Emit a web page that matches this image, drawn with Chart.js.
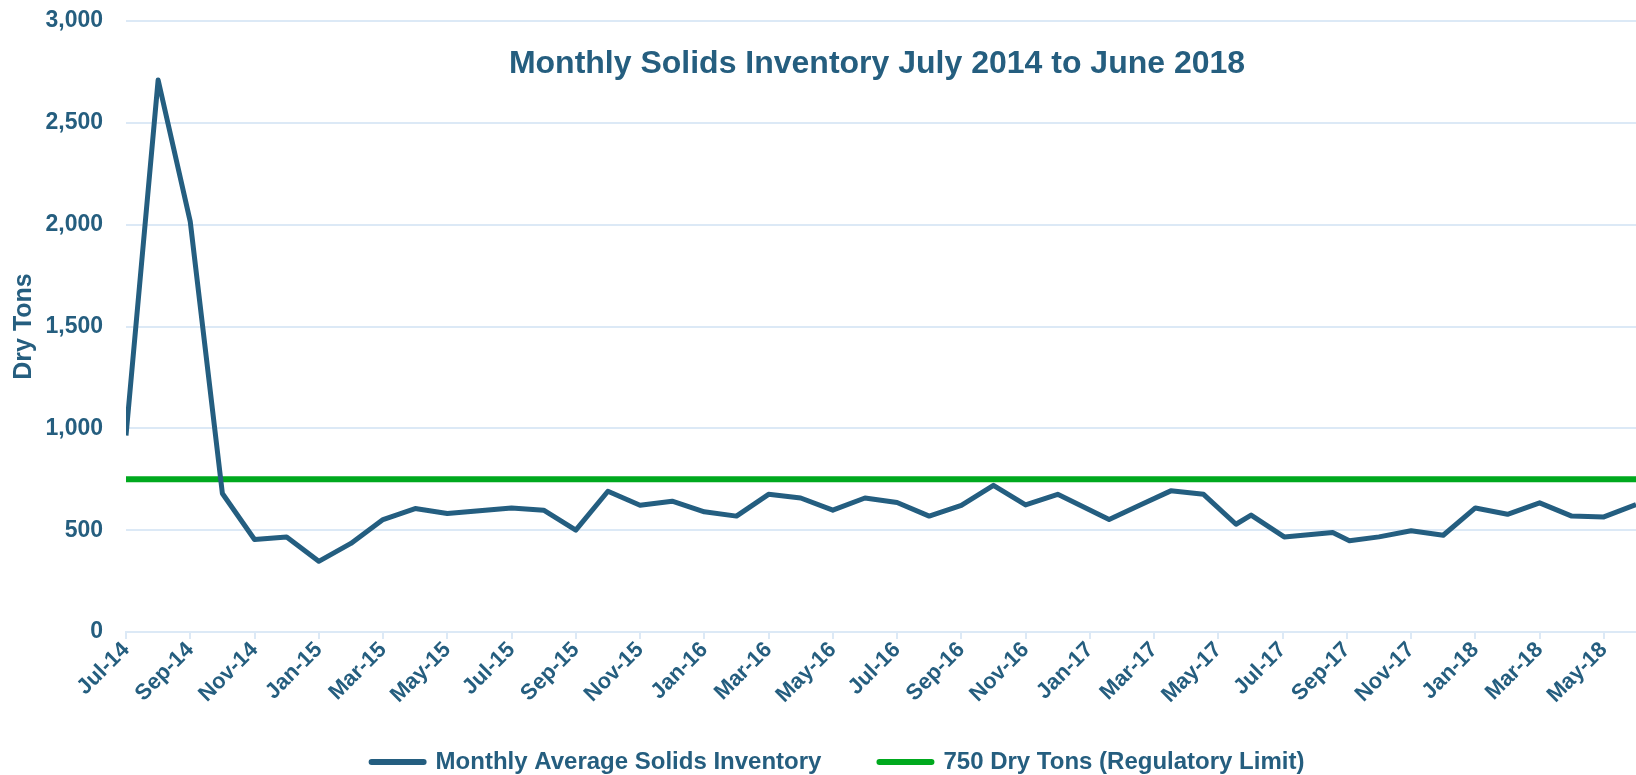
<!DOCTYPE html>
<html>
<head>
<meta charset="utf-8">
<script src="https://cdn.jsdelivr.net/npm/chart.js@4.4.1/dist/chart.umd.min.js"></script>
<style>
html,body{margin:0;padding:0;background:#ffffff;}
#wrap{width:1636px;height:775px;position:relative;}
</style>
</head>
<body>
<div id="wrap"><canvas id="c" width="1636" height="775"></canvas></div>
<script>
// ---- data ----
const chartTitle = 'Monthly Solids Inventory July 2014 to June 2018';
const seriesName = 'Monthly Average Solids Inventory';
const limitName = '750 Dry Tons (Regulatory Limit)';
const yAxisTitle = 'Dry Tons';

// position of each reading, in months after July 2014
const monthOffsets = [0, 1, 2, 3, 4, 5, 6, 7, 8, 9, 10, 11, 12, 13, 14, 15, 16, 17, 18, 19,
  20, 21, 22, 23, 24, 25, 26, 27, 28, 29, 30.6, 31.55, 32.52, 33.54, 34.55, 35.02, 36.05,
  37.56, 38.08, 39, 40, 41, 42, 43, 44, 45, 46, 47];
// monthly average solids inventory (dry tons)
const inventory = [965, 2710, 2015, 680, 454, 467, 347, 435, 552, 606, 582, 595, 609, 598, 500,
  691, 622, 642, 590, 569, 676, 658, 598, 658, 636, 569, 622, 720, 624, 676, 552, 622, 693,
  676, 529, 574, 467, 488, 448, 467, 497, 475, 609, 578, 634, 569, 565, 626];

const limitValue = 750;
const limitRange = [0, 47];

const tickLabels = ['Jul-14', 'Sep-14', 'Nov-14', 'Jan-15', 'Mar-15', 'May-15', 'Jul-15', 'Sep-15',
  'Nov-15', 'Jan-16', 'Mar-16', 'May-16', 'Jul-16', 'Sep-16', 'Nov-16', 'Jan-17', 'Mar-17',
  'May-17', 'Jul-17', 'Sep-17', 'Nov-17', 'Jan-18', 'Mar-18', 'May-18'];

// ---- style ----
const FONT = '"Liberation Sans", Arial, Helvetica, sans-serif';
const TEXT = '#255E7F';
const BLUE = '#245E80';
const GREEN = '#00A91E';
const GRID = '#DCE9F6';

const titlePlugin = {
  id: 'inlineTitle',
  afterLayout(chart) {
    // let the rotated x labels use the empty band above the legend
    chart.scales.x.bottom = chart.height;
  },
  afterDatasetsDraw(chart) {
    const {ctx, chartArea} = chart;
    ctx.save();
    ctx.font = 'bold 32px ' + FONT;
    ctx.fillStyle = TEXT;
    ctx.textAlign = 'center';
    ctx.textBaseline = 'middle';
    ctx.fillText(chartTitle, (chartArea.left + chartArea.right) / 2 - 4, 64);
    ctx.restore();
  }
};

new Chart(document.getElementById('c'), {
  type: 'line',
  data: {
    datasets: [
      {
        label: seriesName,
        data: monthOffsets.map((m, i) => ({x: m, y: inventory[i]})),
        borderColor: BLUE,
        backgroundColor: BLUE,
        borderWidth: 5,
        borderJoinStyle: 'round',
        pointRadius: 0,
        pointHoverRadius: 0,
        tension: 0
      },
      {
        label: limitName,
        data: limitRange.map(m => ({x: m, y: limitValue})),
        borderColor: GREEN,
        backgroundColor: GREEN,
        borderWidth: 6,
        pointRadius: 0,
        pointHoverRadius: 0,
        tension: 0
      }
    ]
  },
  options: {
    responsive: false,
    animation: false,
    events: [],
    layout: {padding: {top: 21, left: 40, right: 0, bottom: -9}},
    plugins: {
      tooltip: {enabled: false},
      title: {display: false},
      legend: {
        position: 'bottom',
        labels: {
          usePointStyle: true,
          pointStyle: 'line',
          pointStyleWidth: 52,
          padding: 58,
          color: TEXT,
          font: {family: FONT, size: 24, weight: 'bold'},
          generateLabels(chart) {
            const items = Chart.defaults.plugins.legend.labels.generateLabels(chart);
            items.forEach((it) => {
              it.lineWidth = 6;
              it.lineCap = 'round';
              it.pointStyle = 'line';
            });
            return items;
          }
        }
      }
    },
    scales: {
      x: {
        type: 'linear',
        min: 0,
        max: 47,
        afterFit(scale) { scale.height = 60; },
        grid: {
          drawOnChartArea: false,
          drawTicks: true,
          tickLength: 7,
          color: GRID,
          lineWidth: 2
        },
        border: {display: true, color: GRID, width: 2},
        ticks: {
          stepSize: 2,
          includeBounds: false,
          autoSkip: false,
          minRotation: 45,
          maxRotation: 45,
          padding: -2,
          color: TEXT,
          font: {family: FONT, size: 22, weight: 'bold'},
          callback: (v) => tickLabels[Math.round(v / 2)]
        }
      },
      y: {
        min: 0,
        max: 3000,
        afterFit(scale) { scale.width = 86; },
        grid: {color: GRID, lineWidth: 2, drawTicks: true, tickLength: 23, tickColor: 'rgba(0,0,0,0)'},
        border: {display: false},
        ticks: {
          stepSize: 500,
          padding: 0,
          color: TEXT,
          font: {family: FONT, size: 23, weight: 'bold'},
          callback: (v) => v.toLocaleString('en-US')
        },
        title: {
          display: true,
          text: yAxisTitle,
          color: TEXT,
          padding: {top: -31, bottom: 0},
          font: {family: FONT, size: 25, weight: 'bold'}
        }
      }
    }
  },
  plugins: [titlePlugin]
});
</script>
</body>
</html>
